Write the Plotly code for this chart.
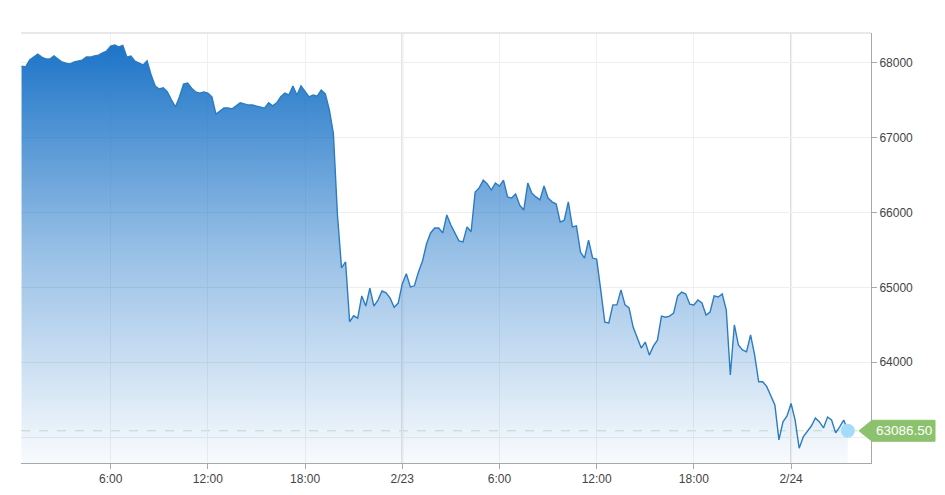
import pandas as pd
import plotly.graph_objects as go

# 15-minute samples, 2/22 00:30 -> 2/24 03:30
start_time = "2024-02-22 00:30"
prices = [
    67950, 67940, 68030, 68070, 68110, 68070, 68045, 68045, 68085, 68045,
    68005, 67990, 67980, 68005, 68020, 68030, 68070, 68070, 68085, 68095,
    68125, 68150, 68215, 68230, 68205, 68225, 68070, 68085, 68015, 67990,
    67965, 68020, 67830, 67685, 67645, 67660, 67605,
    67500, 67405, 67540, 67710, 67725, 67655, 67605, 67590, 67605, 67590,
    67540, 67310, 67350, 67390, 67390, 67380, 67420, 67460, 67445, 67430,
    67430, 67420, 67405, 67390, 67460, 67420, 67460, 67540, 67590, 67565,
    67685, 67565, 67685, 67605, 67540, 67565, 67550, 67630, 67580, 67365,
    67050, 65965, 65260, 65340, 64540, 64620, 64590, 64885, 64750, 64990,
    64750, 64830, 64950, 64925, 64855, 64735, 64790, 65045, 65180, 65005,
    65020, 65205, 65350, 65580, 65725, 65790, 65790, 65725, 65965, 65830,
    65725, 65620, 65605, 65805, 65740, 66270, 66325, 66430, 66378, 66297,
    66390, 66350,
    66430, 66205, 66190, 66245, 66095, 66030, 66390, 66255, 66205, 66165,
    66350, 66190, 66140, 66110, 65870, 65895, 66140, 65805, 65820, 65470,
    65390, 65630, 65390, 65375, 64965, 64535, 64525, 64765, 64765, 64965,
    64765, 64725, 64470, 64335, 64190, 64270, 64095, 64215, 64295, 64615,
    64600, 64615, 64655, 64885, 64935, 64910, 64775, 64765, 64830, 64790,
    64630, 64670, 64885, 64870, 64910, 64700, 63830, 64500, 64230, 64165,
    64140, 64365, 64100, 63740, 63740, 63675, 63540, 63430, 62965, 63205,
    63285, 63450, 63230, 62855, 63005, 63070, 63150, 63258, 63205, 63125,
    63270, 63230, 63060, 63140, 63230, 63086.5,
]
times = pd.date_range(start_time, periods=len(prices), freq="15min")

tick_vals = ["2024-02-22 06:00", "2024-02-22 12:00", "2024-02-22 18:00", "2024-02-23 00:00",
             "2024-02-23 06:00", "2024-02-23 12:00", "2024-02-23 18:00", "2024-02-24 00:00"]
tick_text = ["6:00", "12:00", "18:00", "2/23", "6:00", "12:00", "18:00", "2/24"]
day_lines = ["2024-02-23 00:00", "2024-02-24 00:00"]
y_ticks = [63000, 64000, 65000, 66000, 67000, 68000]

x_range = ["2024-02-22 00:28", "2024-02-24 04:56"]
y_range = [62657, 68391]

last_t, last_v = times[-1], prices[-1]

fig = go.Figure()

fig.add_trace(go.Scatter(
    x=times, y=prices, mode="lines",
    line=dict(color="#2b7cc0", width=1.4),
    fill="tozeroy",
    fillgradient=dict(
        type="vertical", start=y_range[0], stop=y_range[1],
        colorscale=[[0, "rgba(22,112,198,0.03)"], [0.5, "rgba(22,112,198,0.45)"],
                    [1, "rgba(22,112,198,1)"]],
    ),
    hoverinfo="x+y", showlegend=False,
))

fig.add_trace(go.Scatter(
    x=[last_t], y=[last_v], mode="markers", cliponaxis=False,
    marker=dict(size=14, color="#a3dcfa"),
    hoverinfo="skip", showlegend=False,
))

shapes = []
for d in day_lines:
    shapes.append(dict(type="line", xref="x", yref="paper", x0=d, x1=d, y0=0, y1=1,
                       line=dict(color="#dcdcdc", width=2), layer="below"))
# top border
shapes.append(dict(type="line", xref="paper", yref="paper", x0=0, x1=1, y0=1, y1=1,
                   line=dict(color="#e0e0e0", width=1.5)))
# last price dashed line
shapes.append(dict(type="line", xref="paper", yref="y", x0=0, x1=1, y0=last_v, y1=last_v,
                   line=dict(color="#cfe3c8", width=1, dash="dash"), layer="below"))
# price label with pointer
h = 140
shapes.append(dict(
    type="path", xref="paper", yref="y", layer="above",
    path=(f"M 0.9859,{last_v} L 1.0012,{last_v + h} L 1.0753,{last_v + h} "
          f"L 1.0753,{last_v - h} L 1.0012,{last_v - h} Z"),
    fillcolor="#8cc26e", line=dict(color="#8cc26e", width=1),
))

# page body adds an 8px margin, so the figure is a bit smaller than the window
fig.update_layout(
    width=929, height=479,
    margin=dict(l=13, r=66, t=25, b=24, autoexpand=False),
    paper_bgcolor="white", plot_bgcolor="white",
    font=dict(family="Liberation Sans, Arial, sans-serif", size=12, color="#444"),
    shapes=shapes,
    annotations=[dict(
        xref="paper", yref="y", x=1.0383, y=last_v, xanchor="center", yanchor="middle",
        text=f"{last_v:.2f}", showarrow=False, font=dict(color="white", size=13.5),
    )],
    xaxis=dict(
        range=x_range, tickvals=tick_vals, ticktext=tick_text, automargin=False,
        showgrid=True, gridcolor="#f0f0f0", gridwidth=1,
        showline=True, linecolor="#a8a8a8", linewidth=1,
        ticks="outside", ticklen=5, tickcolor="#a8a8a8",
        zeroline=False, tickfont=dict(size=12, color="#444"),
    ),
    yaxis=dict(
        range=y_range, side="right", tickvals=y_ticks, tickformat="d", automargin=False,
        showgrid=True, gridcolor="#eeeeee", gridwidth=1,
        showline=True, linecolor="#a8a8a8", linewidth=1,
        ticks="outside", ticklen=5, tickcolor="#a8a8a8",
        zeroline=False, tickfont=dict(size=12, color="#444"),
    ),
)

fig.write_html("out.html")
